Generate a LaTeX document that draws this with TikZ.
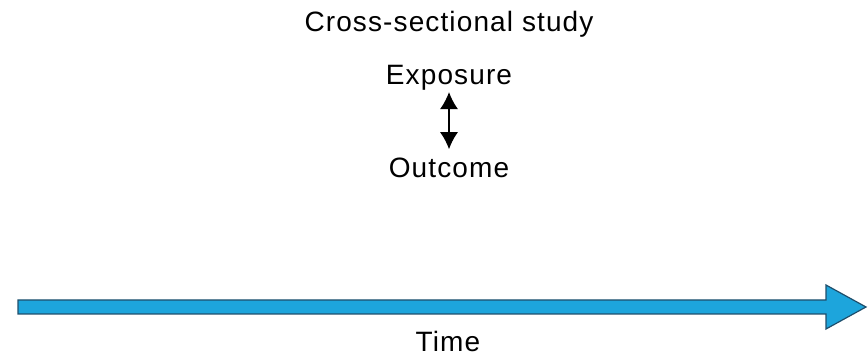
\documentclass[tikz,border=0pt]{standalone}
\usepackage{fontspec}
\setmainfont{Liberation Sans}[LetterSpace=4]
\usetikzlibrary{arrows.meta,calc}
\definecolor{timeblue}{HTML}{1DA5DC}
\definecolor{timeedge}{HTML}{1F4E6B}
\tikzset{
  label/.style={font=\fontsize{28}{32}\selectfont, inner sep=0pt, anchor=base},
  link/.style={line width=1.6pt, {Latex[length=17pt,width=18pt]}-{Latex[length=17pt,width=18pt]}},
  timearrow/.style={fill=timeblue, draw=timeedge, line width=1.2pt, line join=miter}
}
\begin{document}
\begin{tikzpicture}[x=1pt,y=1pt]
  \useasboundingbox (0,0) rectangle (868,358);
  % titles and labels
  \node[label] (title) at (449,326) {Cross-sectional study};
  \node[label] (exp) at (449,273) {Exposure};
  \node[label] (out) at (449,180) {Outcome};
  \node[label] (time) at (448,6) {Time};
  % exposure <-> outcome link
  \draw[link] ([yshift=-1pt]exp.south) -- ([yshift=9pt]out.north);
  % time axis arrow
  \coordinate (tstart) at (18,51);
  \coordinate (tend) at (866,51);
  \path[timearrow]
    ($(tstart)+(0,7)$) -- ($(tend)+(-40,7)$) -- ($(tend)+(-40,22)$) -- (tend)
    -- ($(tend)+(-40,-22)$) -- ($(tend)+(-40,-7)$) -- ($(tstart)+(0,-7)$) -- cycle;
\end{tikzpicture}
\end{document}
